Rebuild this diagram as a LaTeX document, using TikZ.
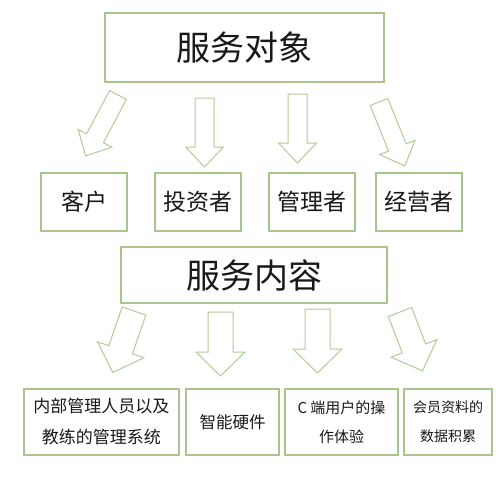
\documentclass[tikz,border=0pt]{standalone}
\usepackage{fontspec}
\newfontfamily\cjk{Noto Sans CJK SC}
\definecolor{boxgreen}{RGB}{170,196,142}
\definecolor{arrgreen}{RGB}{178,203,155}
\definecolor{txt}{RGB}{25,25,25}
\tikzset{
  box/.style={draw=boxgreen, line width=1.15pt, fill=white, text=txt, font=\cjk, inner sep=0pt, align=center},
  bigbox/.style={box, minimum width=279pt, minimum height=69pt, font=\cjk\fontsize{34}{40}\selectfont},
  rowone/.style={box, minimum width=86pt, minimum height=58pt, font=\cjk\fontsize{23}{28}\selectfont},
  rowtwo/.style={box, minimum height=66pt},
  arrowline/.style={draw=arrgreen, line width=1pt, line join=miter},
}
% block arrow: length, shaft half width, head half width, head length; tail at origin, pointing down
\newcommand\blkarrow[4]{\draw[arrowline] (-#2,0) -- (-#2,#1-#4) -- (-#3,#1-#4) -- (0,#1) -- (#3,#1-#4) -- (#2,#1-#4) -- (#2,0) -- cycle;}
\begin{document}
\begin{tikzpicture}[x=1pt,y=-1pt]
\useasboundingbox[fill=white] (0,0) rectangle (499,488);
% top heading
\node[bigbox] (obj) at (244.5,47.5) {服务对象};
% row 1
\node[rowone] (c1) at (84,202) {客户};
\node[rowone] (c2) at (198,202) {投资者};
\node[rowone] (c3) at (312,202) {管理者};
\node[rowone] (c4) at (419,202) {经营者};
% row 1 arrows
\coordinate (ta1) at (118,95);
\coordinate (ta2) at (204.5,98);
\coordinate (ta3) at (297.5,94);
\coordinate (ta4) at (379,102);
\begin{scope}[shift={(ta1)}, rotate=-28] \blkarrow{69}{9.5}{19}{20} \end{scope}
\begin{scope}[shift={(ta2)}] \blkarrow{69}{9.5}{19}{20} \end{scope}
\begin{scope}[shift={(ta3)}] \blkarrow{69}{9.5}{19}{20} \end{scope}
\begin{scope}[shift={(ta4)}, rotate=22] \blkarrow{69}{9.5}{19}{20} \end{scope}
% second heading
\node[bigbox, minimum width=266pt, minimum height=56pt] (cont) at (254,275) {服务内容};
% row 2 arrows
\coordinate (tb1) at (134,311);
\coordinate (tb2) at (220.5,312);
\coordinate (tb3) at (317.5,309);
\coordinate (tb4) at (400,312);
\begin{scope}[shift={(tb1)}, rotate=-19] \blkarrow{65}{12.5}{24.5}{24} \end{scope}
\begin{scope}[shift={(tb2)}] \blkarrow{64}{12.5}{24.5}{24} \end{scope}
\begin{scope}[shift={(tb3)}] \blkarrow{64}{12.5}{24.5}{24} \end{scope}
\begin{scope}[shift={(tb4)}, rotate=21] \blkarrow{63}{12.5}{24.5}{24} \end{scope}
% row 2
\node[rowtwo, minimum width=155pt, font=\cjk\fontsize{17}{31}\selectfont] (d1) at (101.5,422) {内部管理人员以及\\教练的管理系统};
\node[rowtwo, minimum width=93pt, font=\cjk\fontsize{16.5}{30}\selectfont] (d2) at (232.5,422) {智能硬件};
\node[rowtwo, minimum width=113pt, font=\cjk\fontsize{15}{29}\selectfont] (d3) at (341.5,422) {C 端用户的操\\作体验};
\node[rowtwo, minimum width=88pt, font=\cjk\fontsize{14}{29}\selectfont] (d4) at (448,422) {会员资料的\\数据积累};
\end{tikzpicture}
\end{document}
